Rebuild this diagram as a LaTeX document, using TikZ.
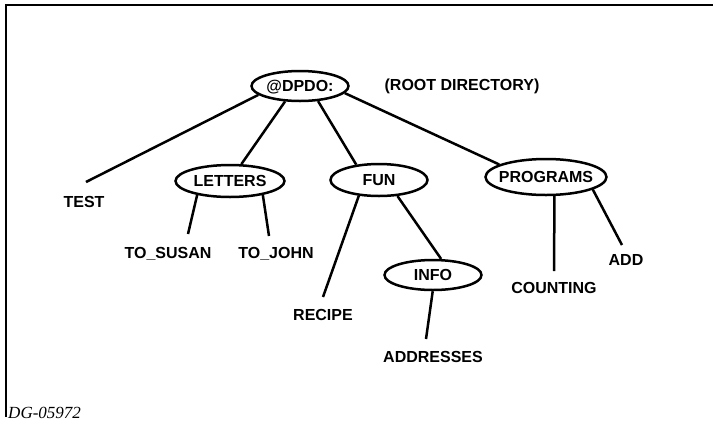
\documentclass[tikz,border=0pt]{standalone}
\usepackage{fontspec}
\setmainfont{Liberation Sans}
\newfontfamily\dgfont{Liberation Serif}
\usetikzlibrary{shapes.geometric,calc}

\tikzset{every picture/.style={line width=2.5pt}}
\tikzset{
dirnode/.style={draw, ellipse, inner xsep=-20pt, inner ysep=-6pt, text height=11.5pt, text depth=0pt, font=\fontsize{16}{18}\selectfont\bfseries},
filenode/.style={inner sep=0pt, text height=11.5pt, text depth=0pt, font=\fontsize{16}{18}\selectfont\bfseries}}

\begin{document}
\begin{tikzpicture}[x=1pt,y=1pt,yscale=-1]
\useasboundingbox (0,0) rectangle (713,424);

%Frame
\draw[line width=2pt] (6,417) -- (6,5) -- (713,5);

%Shape: Ellipse (directories)
\node[dirnode, minimum width=97pt, minimum height=30pt] (dpdo) at (300,86) {@DPDO:};
\node[dirnode, minimum width=109pt, minimum height=32pt] (letters) at (230,181) {LETTERS};
\node[dirnode, minimum width=97pt, minimum height=32pt] (fun) at (379,180) {FUN};
\node[dirnode, minimum width=121pt, minimum height=36pt] (programs) at (546,177) {PROGRAMS};
\node[dirnode, minimum width=97pt, minimum height=30pt] (info) at (433,275) {INFO};

% Text Node (files)
\node[filenode] (test) at (84,202) {TEST};
\node[filenode] (tosusan) at (168,253) {TO\_SUSAN};
\node[filenode] (tojohn) at (276,253) {TO\_JOHN};
\node[filenode] (recipe) at (323,315) {RECIPE};
\node[filenode] (addresses) at (433,357) {ADDRESSES};
\node[filenode] (counting) at (554,288) {COUNTING};
\node[filenode] (add) at (626,260) {ADD};

% Text Node
\node[filenode] (rootnote) at (462,85) {(ROOT DIRECTORY)};
\node[anchor=west, inner sep=0pt, font=\dgfont\itshape\fontsize{17}{20}\selectfont] (figno) at (7,413) {DG-05972};

%Connectors
\draw (dpdo.192) -- ($(test.north)+(2,-13)$);
\draw (dpdo.226) -- (letters.56);
\draw (dpdo.320) -- (fun.146);
\draw (dpdo.351) -- (programs.165);
\draw (letters.203) -- ($(tosusan.north)+(20,-12)$);
\draw (letters.337) -- ($(tojohn.north)+(-7,-10)$);
\draw (fun.218) -- ($(recipe.north)+(0,-11)$);
\draw (fun.319) -- (info.63);
\draw (info.269) -- ($(addresses.north)+(-7,-11)$);
\draw (programs.294) -- ($(counting.north)+(0,-10)$);
\draw (programs.345) -- ($(add.north)+(-4,-8)$);

\end{tikzpicture}
\end{document}
